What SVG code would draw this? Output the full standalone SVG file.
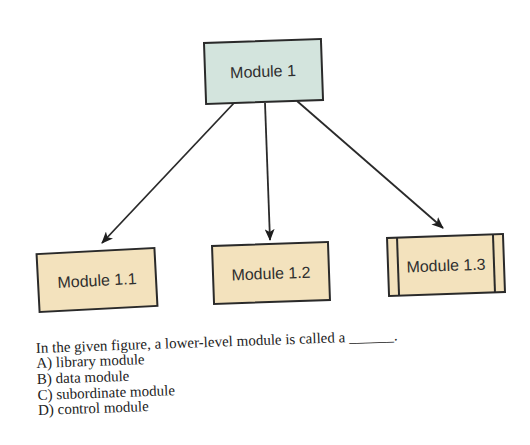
<svg xmlns="http://www.w3.org/2000/svg" width="530" height="445" viewBox="0 0 530 445">
  <style>
    .box { stroke: #2a2a2a; stroke-width: 2; }
    .top { fill: #d3e4dd; }
    .sub { fill: #f3e2bd; }
    .lbl { font-family: "Liberation Sans", Arial, sans-serif; font-size: 16px; fill: #2e2e2e; text-anchor: middle; }
    .q { font-family: "Liberation Serif", "Times New Roman", serif; font-size: 15px; fill: #222; }
    .edge { stroke: #2a2a2a; stroke-width: 1.8; fill: none; marker-end: url(#ah); }
  </style>
  <defs>
    <marker id="ah" viewBox="0 0 12 10" refX="11" refY="5" markerWidth="12" markerHeight="10" markerUnits="userSpaceOnUse" orient="auto">
      <path d="M0,0 L12,5 L0,10 L3,5 Z" fill="#1e1e1e"/>
    </marker>
  </defs>
  <rect width="530" height="445" fill="#ffffff"/>

  <g id="connectors">
    <line class="edge" x1="234" y1="103" x2="102" y2="243"/>
    <line class="edge" x1="265" y1="103" x2="270" y2="240"/>
    <line class="edge" x1="297" y1="101" x2="443" y2="228"/>
  </g>

  <g id="module1" transform="rotate(-2 263 71)">
    <rect class="box top" x="205" y="41" width="117" height="61"/>
    <text class="lbl" x="263" y="77">Module 1</text>
  </g>

  <g id="module1_1" transform="rotate(-3 97 280)">
    <rect class="box sub" x="38" y="251" width="118" height="58"/>
    <text class="lbl" x="97" y="286">Module 1.1</text>
  </g>

  <g id="module1_2" transform="rotate(-2 271 273)">
    <rect class="box sub" x="213" y="244" width="116" height="58"/>
    <text class="lbl" x="271" y="279">Module 1.2</text>
  </g>

  <g id="module1_3" transform="rotate(-2 446 265)">
    <rect class="box sub" x="388" y="236" width="116" height="58"/>
    <line class="box" x1="398" y1="236" x2="398" y2="294"/>
    <line class="box" x1="494" y1="236" x2="494" y2="294"/>
    <text class="lbl" x="446" y="271">Module 1.3</text>
  </g>

  <g id="question" transform="rotate(-2 36 353)">
    <text class="q" x="36" y="353">In the given figure, a lower-level module is called a ______.</text>
    <text class="q" x="36" y="368">A) library module</text>
    <text class="q" x="36" y="384">B) data module</text>
    <text class="q" x="36" y="400">C) subordinate module</text>
    <text class="q" x="36" y="415">D) control module</text>
  </g>
</svg>
